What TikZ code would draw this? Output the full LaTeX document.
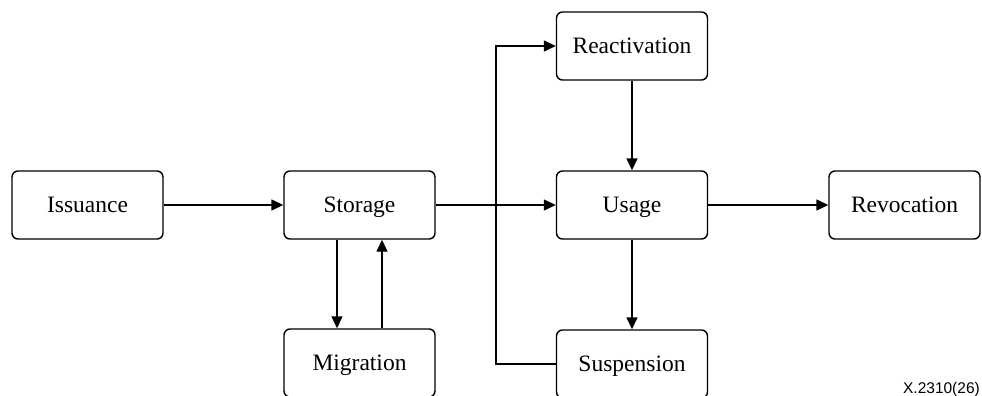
\documentclass[tikz,border=0pt]{standalone}
\usepackage{fontspec}
\setmainfont{Liberation Serif}
\newfontfamily\labelsans{Liberation Sans}
\usetikzlibrary{arrows.meta}
\begin{document}
\begin{tikzpicture}[x=1pt,y=-1pt,
  box/.style={draw, line width=1.4pt, rounded corners=6pt, minimum width=151pt, minimum height=68pt, inner sep=0pt, text height=16pt, text depth=1pt, font=\fontsize{23.5}{23.5}\selectfont},
  arr/.style={line width=1.4pt, -{Triangle[length=12pt,width=11pt]}}]
\useasboundingbox (0,0) rectangle (982,396);
\clip (0,0) rectangle (982,396);
\node[box] (iss) at (87.5,205) {Issuance};
\node[box] (sto) at (359.5,205) {Storage};
\node[box] (mig) at (359.5,363) {Migration};
\node[box] (rea) at (632,46) {Reactivation};
\node[box] (usa) at (632,205) {Usage};
\node[box] (rev) at (904.5,205) {Revocation};
\node[box] (sus) at (632,364) {Suspension};
\coordinate (trk) at (496,0);
\draw[arr] (iss) -- (sto);
\draw[arr] ([xshift=-22.5pt]sto.south) -- ([xshift=-22.5pt]mig.north);
\draw[arr] ([xshift=22.5pt]mig.north) -- ([xshift=22.5pt]sto.south);
\draw[arr] (sto) -- (usa);
\draw[arr] (sus.west) -- (sus.west -| trk) -- (rea.west -| trk) -- (rea.west);
\draw[arr] (rea) -- (usa);
\draw[arr] (usa) -- (sus);
\draw[arr] (usa) -- (rev);
\node[anchor=base east, inner sep=0pt, font=\labelsans\fontsize{15.5}{15.5}\selectfont] (lbl) at (980,393) {X.2310(26)};
\end{tikzpicture}
\end{document}
